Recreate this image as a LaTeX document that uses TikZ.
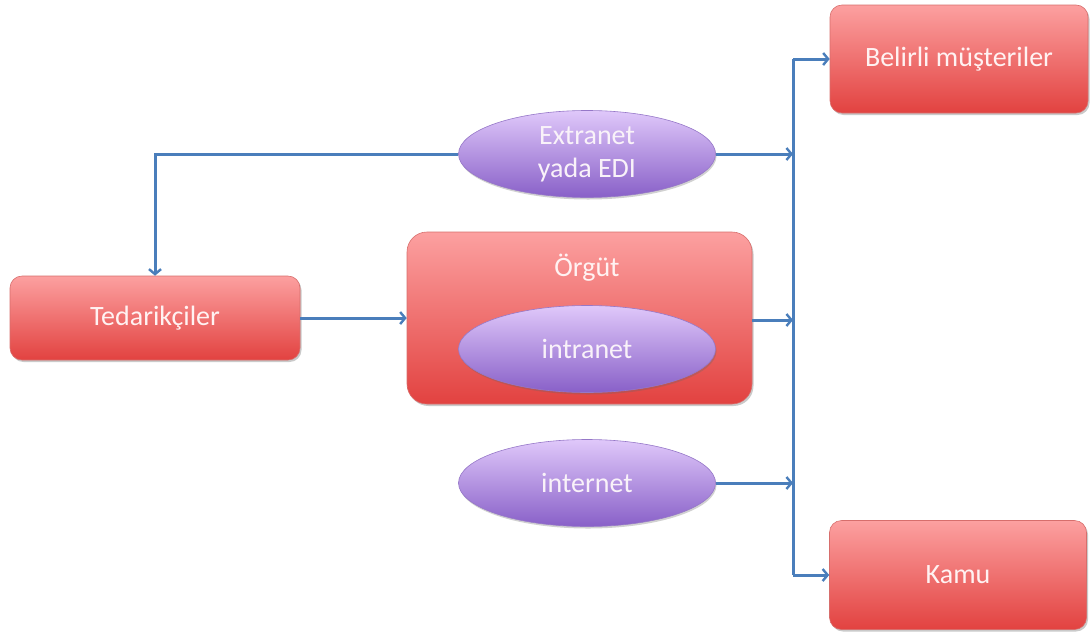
\documentclass[tikz,border=0pt]{standalone}
\usepackage{fontspec}
\setmainfont{Carlito}
\usetikzlibrary{arrows.meta,shapes.geometric,shadows}
\definecolor{linkblue}{RGB}{74,126,187}
\definecolor{boxtop}{RGB}{252,160,160}
\definecolor{boxbot}{RGB}{226,66,64}
\definecolor{boxedge}{RGB}{215,110,108}
\definecolor{ovaltop}{RGB}{224,200,250}
\definecolor{ovalbot}{RGB}{136,96,200}
\definecolor{ovaledge}{RGB}{150,120,200}
\tikzset{
  x=1pt, y=-1pt,
  labelfont/.style={font=\fontsize{28}{33}\selectfont},
  redbox/.style={draw=boxedge, line width=0.6pt, top color=boxtop, bottom color=boxbot,
    rounded corners=12pt, text=white!95!red, labelfont,
    align=center, inner sep=0pt,
    drop shadow={shadow xshift=1.5pt, shadow yshift=-2pt, opacity=0.35, fill=black!60}},
  oval/.style={ellipse, draw=ovaledge, line width=0.6pt, top color=ovaltop, bottom color=ovalbot,
    text=white!95!violet, labelfont, align=center, inner sep=0pt,
    minimum width=257pt, minimum height=87pt,
    drop shadow={shadow xshift=1pt, shadow yshift=-2pt, opacity=0.3, fill=black!60}},
  link/.style={draw=linkblue, line width=3pt, -{Straight Barb[length=5pt,width=12pt,line width=2.4pt]}},
  plain/.style={draw=linkblue, line width=3pt}
}
\begin{document}
\begin{tikzpicture}
\useasboundingbox (0,0) rectangle (1091,635);

% red boxes
\node[redbox, minimum width=258pt, minimum height=108pt] (clients) at (959,59) {Belirli müşteriler};
\node[redbox, minimum width=257pt, minimum height=109pt] (public) at (958,575) {Kamu};
\node[redbox, minimum width=290pt, minimum height=84pt] (suppliers) at (155,318) {Tedarikçiler};
\node[redbox, rounded corners=20pt, minimum width=345pt, minimum height=172pt] (org) at (579.5,318) {};
\node[labelfont, text=white!95!red] (orgtitle) at (587,268) {Örgüt};

% ovals
\node[oval] (extranet) at (587,154) {Extranet\\yada EDI};
\node[oval] (intranet) at (587,349) {intranet};
\node[oval] (internet) at (587,483) {internet};

% distribution trunk
\coordinate (trunktop) at (793,59);
\coordinate (trunkbot) at (793,575);
\coordinate (jext) at (793,154);
\coordinate (jorg) at (793,320);
\coordinate (jnet) at (793,483);
\coordinate (bend) at (155,154);

\draw[plain] (trunktop) -- (trunkbot);
\draw[link] (trunktop) -- (clients.west);
\draw[link] (trunkbot) -- (public.west);
\draw[link] (extranet.east) -- (jext);
\draw[link] (org.east |- jorg) -- (jorg);
\draw[link] (internet.east) -- (jnet);

% extranet back to suppliers, suppliers into organisation
\draw[link] (extranet.west) -- (bend) -- (suppliers.north);
\draw[link] (suppliers.east) -- (org.west |- suppliers.east);
\end{tikzpicture}
\end{document}
